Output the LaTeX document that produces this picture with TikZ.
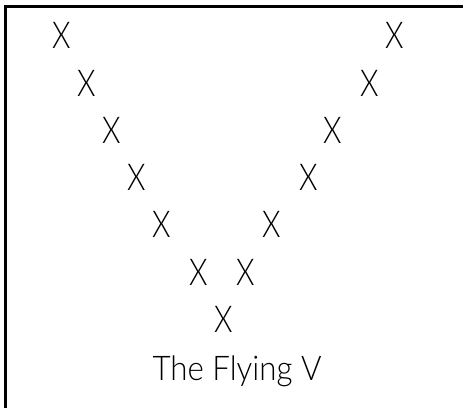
\documentclass[tikz,border=0pt]{standalone}
\usepackage{fontspec}
\setmainfont{Lato Light}
\begin{document}
\begin{tikzpicture}[x=1pt,y=-1pt,
  xmark/.style={inner sep=0pt, font=\fontsize{37}{37}\selectfont, xscale=0.8},
  title/.style={inner sep=0pt, font=\fontsize{34}{34}\selectfont, anchor=base, xscale=0.92}]
\useasboundingbox (0,0) rectangle (463,407);
\clip (0,0) rectangle (463,407);
\fill[white] (0,0) rectangle (463,407);
\draw[line width=2.8pt] (5.5,6.5) rectangle (480,430);
\node[xmark] (l1) at (62,35) {X};
\node[xmark] (l2) at (87,83) {X};
\node[xmark] (l3) at (112,130) {X};
\node[xmark] (l4) at (137,177) {X};
\node[xmark] (l5) at (162,224) {X};
\node[xmark] (l6) at (199,272) {X};
\node[xmark] (b) at (224,319) {X};
\node[xmark] (r6) at (246,272) {X};
\node[xmark] (r5) at (272,224) {X};
\node[xmark] (r4) at (309,177) {X};
\node[xmark] (r3) at (333,130) {X};
\node[xmark] (r2) at (370,83) {X};
\node[xmark] (r1) at (395,35) {X};
\node[title] (t) at (237,380) {The Flying V};
\end{tikzpicture}
\end{document}
